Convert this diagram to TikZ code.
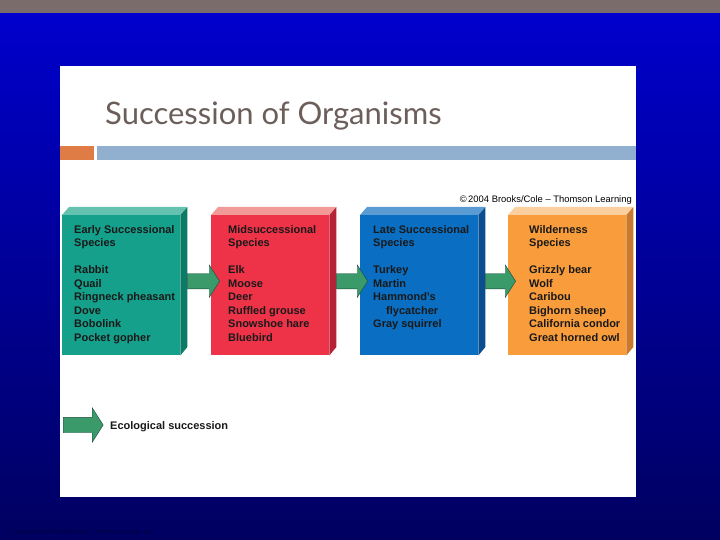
\documentclass[tikz,border=0pt]{standalone}
\usepackage{fontspec}
\setmainfont{Liberation Sans}
\newfontfamily\titlefont{Lato}
\usetikzlibrary{shapes.arrows, calc}

\definecolor{slideblue}{RGB}{0,0,204}
\definecolor{slidemid}{RGB}{0,0,176}
\definecolor{slidenavy}{RGB}{0,0,96}
\definecolor{bandgray}{RGB}{123,108,108}
\definecolor{titlebrown}{RGB}{108,94,90}
\definecolor{barorange}{RGB}{223,124,69}
\definecolor{barblue}{RGB}{145,176,207}
\definecolor{earlyfront}{RGB}{20,160,138}
\definecolor{earlytop}{RGB}{102,194,176}
\definecolor{earlyside}{RGB}{11,123,104}
\definecolor{midfront}{RGB}{238,51,72}
\definecolor{midtop}{RGB}{242,154,152}
\definecolor{midside}{RGB}{181,34,55}
\definecolor{latefront}{RGB}{10,110,194}
\definecolor{latetop}{RGB}{90,155,212}
\definecolor{lateside}{RGB}{11,78,143}
\definecolor{wildfront}{RGB}{249,156,60}
\definecolor{wildtop}{RGB}{251,208,158}
\definecolor{wildside}{RGB}{201,120,44}
\definecolor{arrowgreen}{RGB}{58,154,106}
\definecolor{arrowedge}{RGB}{26,74,58}

\begin{document}
\begin{tikzpicture}[x=1pt, y=-1pt,
  front/.style={minimum width=118pt, minimum height=140pt, inner sep=0pt, anchor=north west},
  listtext/.style={anchor=north west, align=left, inner sep=0pt, text=black!90,
    font=\fontsize{11}{13.5}\selectfont\bfseries},
  flow/.style={single arrow, draw=arrowedge, fill=arrowgreen, inner xsep=0pt, inner ysep=7.5pt,
    single arrow head extend=8.5pt, single arrow tip angle=115, anchor=west}]

  % slide background
  \useasboundingbox (0,0) rectangle (720,540);
  \fill[bandgray] (0,0) rectangle (720,14);
  \shade[top color=slideblue, middle color=slidemid, bottom color=slidenavy] (0,14) rectangle (720,540);
  \fill[white] (60,66) rectangle (636,497);

  % title
  \node[anchor=base west, inner sep=0pt, text=titlebrown,
    font=\titlefont\fontsize{31}{34}\selectfont] (title) at (105,125) {Succession of Organisms};
  \fill[barorange] (60,146) rectangle (94,160);
  \fill[barblue] (97,146) rectangle (636,160);
  \node[anchor=base east, inner sep=0pt, font=\fontsize{9.4}{10}\selectfont] (credit) at (632,203)
    {\textcopyright\,2004 Brooks/Cole -- Thomson Learning};

  % boxes
  \node[front, fill=earlyfront] (early) at (62,215) {};
  \node[front, fill=midfront] (mid) at (211,215) {};
  \node[front, fill=latefront] (late) at (360,215) {};
  \node[front, fill=wildfront] (wild) at (508,215) {};

  \foreach \b/\tc/\sc in {early/earlytop/earlyside, mid/midtop/midside,
                          late/latetop/lateside, wild/wildtop/wildside} {
    \fill[\tc] (\b.north west) -- ++(7,-8) -- ++(118,0) -- (\b.north east) -- cycle;
    \fill[\sc] (\b.north east) -- ++(7,-8) -- ++(0,140) -- (\b.south east) -- cycle;
  }

  \node[listtext] (earlytext) at ([xshift=12pt, yshift=-10pt]early.north west)
    {Early Successional\\Species\\[13.5pt]Rabbit\\Quail\\Ringneck pheasant\\Dove\\Bobolink\\Pocket gopher};
  \node[listtext] (midtext) at ([xshift=17pt, yshift=-10pt]mid.north west)
    {Midsuccessional\\Species\\[13.5pt]Elk\\Moose\\Deer\\Ruffled grouse\\Snowshoe hare\\Bluebird};
  \node[listtext] (latetext) at ([xshift=13pt, yshift=-10pt]late.north west)
    {Late Successional\\Species\\[13.5pt]Turkey\\Martin\\Hammond's\\\hspace*{13pt}flycatcher\\Gray squirrel};
  \node[listtext] (wildtext) at ([xshift=21pt, yshift=-10pt]wild.north west)
    {Wilderness\\Species\\[13.5pt]Grizzly bear\\Wolf\\Caribou\\Bighorn sheep\\California condor\\Great horned owl};

  % arrows between the stages
  \node[flow, minimum height=32pt] (step1) at ([xshift=7pt, yshift=4pt]early.east) {};
  \node[flow, minimum height=31pt] (step2) at ([xshift=7pt, yshift=4pt]mid.east) {};
  \node[flow, minimum height=30pt] (step3) at ([xshift=7pt, yshift=4pt]late.east) {};

  % legend
  \node[flow, minimum height=40pt, single arrow head extend=9.5pt] (key) at (63,425) {};
  \node[anchor=base west, inner sep=0pt, text=black!90,
    font=\fontsize{11}{12}\selectfont\bfseries] (keytext) at (110,429) {Ecological succession};

  \node[anchor=base west, inner sep=0pt, text=slidenavy!60!black,
    font=\fontsize{5.5}{6}\selectfont] (footer) at (14,533)
    {Copyright \textcopyright\ 2004 Brooks/Cole -- Thomson Learning, Inc.};
\end{tikzpicture}
\end{document}
